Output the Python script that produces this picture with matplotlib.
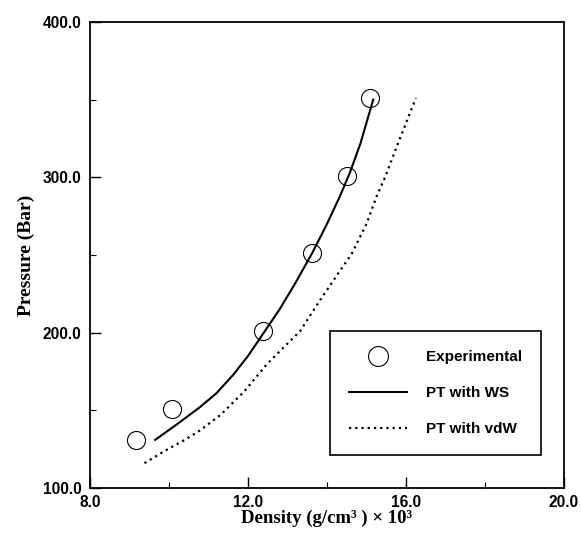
import matplotlib
matplotlib.use('Agg')
import matplotlib.pyplot as plt
from matplotlib.ticker import MultipleLocator, FormatStrFormatter

# ===== DADOS =====
exp_density = [9.16, 10.08, 12.38, 13.62, 14.50, 15.10]
exp_pressure = [131, 151, 201, 251, 301, 351]

ws_density = [9.65, 10.2, 10.78, 11.2, 11.63, 12.0, 12.4, 12.8, 13.2, 13.62, 14.0, 14.33, 14.58, 14.85, 15.17]
ws_pressure = [131, 141, 152, 161, 173, 185, 200, 215, 232, 251, 270, 288, 303, 322, 350]

vdw_density = [9.38, 9.9, 10.4, 10.78, 11.3, 11.9, 12.47, 13.0, 13.32, 13.8, 14.2, 14.63, 15.0, 15.26, 15.47, 15.8, 16.25]
vdw_pressure = [116, 124, 131, 137, 147, 162, 179.5, 193, 201, 220, 235, 251, 270, 288, 300, 322, 351]

# ===== PLOT =====
fig = plt.figure(figsize=(5.81, 5.34), dpi=100)
ax = fig.add_axes([0.1549, 0.0861, 0.8158, 0.8727])

ax.plot(exp_density, exp_pressure, linestyle='none', marker='o', markersize=13,
        markerfacecolor='none', markeredgecolor='black', markeredgewidth=0.8,
        label='Experimental')
ax.plot(ws_density, ws_pressure, color='black', linewidth=1.5, label='PT with WS')
ax.plot(vdw_density, vdw_pressure, color='black', linewidth=1.6,
        linestyle=(0, (1, 1.8)), label='PT with vdW')

ax.set_xlim(8, 20)
ax.set_ylim(100, 400)
ax.xaxis.set_major_locator(MultipleLocator(4))
ax.xaxis.set_minor_locator(MultipleLocator(2))
ax.yaxis.set_major_locator(MultipleLocator(100))
ax.yaxis.set_minor_locator(MultipleLocator(50))
ax.xaxis.set_major_formatter(FormatStrFormatter('%.1f'))
ax.yaxis.set_major_formatter(FormatStrFormatter('%.1f'))

ax.tick_params(which='both', direction='in', top=False, right=False)
ax.tick_params(which='major', length=8, width=1)
ax.tick_params(axis='x', which='major', pad=5)
ax.tick_params(axis='y', which='major', pad=6)
ax.tick_params(which='minor', length=4, width=0.8)
for lab in ax.get_xticklabels() + ax.get_yticklabels():
    lab.set_fontfamily('Liberation Sans')
    lab.set_fontweight('bold')
    lab.set_fontsize(11.2)

for sp in ax.spines.values():
    sp.set_linewidth(1.3)

ax.set_xlabel('Density (g/cm\u00b3 ) \u00d7 10\u00b3', fontfamily='Liberation Serif',
              fontsize=13.5, fontweight='bold', labelpad=-0.5)
ax.set_ylabel('Pressure (Bar)', fontfamily='Liberation Serif',
              fontsize=14, fontweight='bold', labelpad=6)

leg = ax.legend(loc='lower right', bbox_to_anchor=(0.951, 0.07), borderaxespad=0,
                frameon=True, fancybox=False, edgecolor='black', framealpha=1,
                prop={'family': 'Liberation Sans', 'weight': 'bold', 'size': 11},
                handlelength=3.8, handletextpad=1.2, labelspacing=1.45,
                borderpad=1.25, markerscale=1.1)
leg.get_frame().set_linewidth(1.2)

plt.savefig('out.png', dpi=100)
